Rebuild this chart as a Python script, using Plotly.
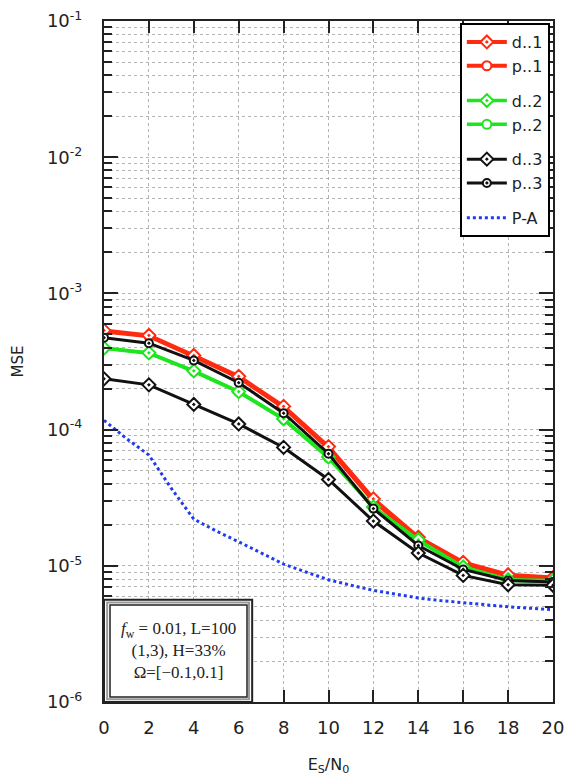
import plotly.graph_objects as go

# ---------------- data ----------------
snr = [0, 2, 4, 6, 8, 10, 12, 14, 16, 18, 20]

d1 = [5.35e-4, 4.92e-4, 3.50e-4, 2.46e-4, 1.48e-4, 7.5e-5, 3.1e-5, 1.62e-5, 1.06e-5, 8.6e-6, 8.2e-6]
p1 = [5.25e-4, 4.85e-4, 3.45e-4, 2.42e-4, 1.45e-4, 7.3e-5, 3.0e-5, 1.58e-5, 1.04e-5, 8.4e-6, 8.0e-6]
d2 = [3.97e-4, 3.66e-4, 2.70e-4, 1.90e-4, 1.20e-4, 6.3e-5, 2.7e-5, 1.55e-5, 9.8e-6, 7.9e-6, 7.8e-6]
p2 = [3.95e-4, 3.64e-4, 2.68e-4, 1.89e-4, 1.19e-4, 6.2e-5, 2.68e-5, 1.53e-5, 9.7e-6, 7.8e-6, 7.7e-6]
d3 = [2.36e-4, 2.13e-4, 1.53e-4, 1.10e-4, 7.4e-5, 4.3e-5, 2.13e-5, 1.24e-5, 8.5e-6, 7.26e-6, 7.2e-6]
p3 = [4.73e-4, 4.31e-4, 3.22e-4, 2.21e-4, 1.32e-4, 6.65e-5, 2.63e-5, 1.41e-5, 9.4e-6, 7.8e-6, 7.6e-6]

pa_x = list(range(0, 21))
pa_y = [1.17e-4, 8.6e-5, 6.5e-5, 3.7e-5, 2.2e-5, 1.8e-5, 1.5e-5, 1.24e-5, 1.03e-5, 9.0e-6,
        7.9e-6, 7.2e-6, 6.6e-6, 6.2e-6, 5.8e-6, 5.55e-6, 5.35e-6, 5.15e-6, 5.0e-6, 4.88e-6, 4.76e-6]

y_tickvals = [1e-6, 1e-5, 1e-4, 1e-3, 1e-2, 1e-1]
y_ticktext = ["10<sup>-6</sup>", "10<sup>-5</sup>", "10<sup>-4</sup>",
              "10<sup>-3</sup>", "10<sup>-2</sup>", "10<sup>-1</sup>"]
x_tickvals = [0, 2, 4, 6, 8, 10, 12, 14, 16, 18, 20]

RED = "#ff2a10"
GREEN = "#1ee61e"
BLACK = "#111111"
BLUE = "#1f3cf0"

fig = go.Figure()

def add(name, y, color, symbol, size, width, group, rank):
    fig.add_trace(go.Scatter(
        x=snr, y=y, name=name, mode="lines+markers",
        line=dict(color=color, width=width),
        marker=dict(symbol=symbol, size=size, color="white",
                    line=dict(color=color, width=2)),
        legendgroup=group, legendrank=rank))

add("p..1", p1, RED, "circle", 9, 4, "g1", 2)
add("d..1", d1, RED, "diamond-dot", 10, 4, "g1", 1)
add("p..2", p2, GREEN, "circle", 9, 3.5, "g2", 4)
add("d..2", d2, GREEN, "diamond-dot", 10, 3.5, "g2", 3)
add("p..3", p3, BLACK, "circle-dot", 8, 3, "g3", 6)
add("d..3", d3, BLACK, "diamond-dot", 10, 3, "g3", 5)

fig.add_trace(go.Scatter(
    x=pa_x, y=pa_y, name="P-A", mode="lines",
    line=dict(color=BLUE, width=3, dash="dot"),
    legendgroup="g4", legendrank=7))

grid = dict(gridcolor="#b4b4b4", griddash="dot", gridwidth=1)

fig.update_layout(
    width=567, height=783,
    margin=dict(l=104, r=14, t=21, b=81, autoexpand=False),
    paper_bgcolor="white", plot_bgcolor="white",
    font=dict(family="DejaVu Sans", size=18, color="#222222"),
    showlegend=True,
    legend=dict(
        x=0.993, y=0.997, xanchor="right", yanchor="top",
        bgcolor="white", bordercolor="black", borderwidth=2,
        font=dict(family="DejaVu Sans", size=16, color="#222222"),
        tracegroupgap=11, traceorder="grouped",
        itemwidth=40,
    ),
    xaxis=dict(
        range=[0, 20], tickvals=x_tickvals, automargin=False,
        ticks="inside", ticklen=12, tickwidth=2, tickcolor="#222222",
        showline=True, linecolor="#222222", linewidth=2, mirror="allticks",
        showgrid=True, zeroline=False, ticklabelstandoff=8,
        tickfont=dict(size=18),
        title=dict(text="E<sub>S</sub>/N<sub>0</sub>", font=dict(size=16), standoff=22),
        **grid,
    ),
    yaxis=dict(
        type="log", range=[-6, -1], automargin=False,
        tickvals=y_tickvals, ticktext=y_ticktext,
        ticks="inside", ticklen=14, tickwidth=2, tickcolor="#222222",
        showline=True, linecolor="#222222", linewidth=2, mirror="allticks",
        showgrid=True, zeroline=False, ticklabelstandoff=16,
        tickfont=dict(size=18),
        minor=dict(ticks="inside", ticklen=8, tickwidth=2, tickcolor="#222222",
                   dtick="D1", showgrid=True, gridcolor="#b4b4b4", griddash="dot", gridwidth=1),
        title=dict(text="MSE", font=dict(size=15), standoff=20),
        **grid,
    ),
)

# text box (double border)
fig.add_shape(type="rect", xref="paper", yref="paper", x0=0.0, x1=0.33, y0=0.0, y1=0.15,
              fillcolor="white", line=dict(color="#222222", width=2), layer="above")
fig.add_shape(type="rect", xref="paper", yref="paper", x0=0.007, x1=0.323, y0=0.004, y1=0.146,
              fillcolor="rgba(0,0,0,0)", line=dict(color="#9a9a9a", width=2), layer="above")
fig.add_shape(type="rect", xref="paper", yref="paper", x0=0.0134, x1=0.3185, y0=0.0073, y1=0.1424,
              fillcolor="rgba(0,0,0,0)", line=dict(color="#222222", width=1.5), layer="above")

fig.add_annotation(
    xref="paper", yref="paper", x=0.165, y=0.075, xanchor="center", yanchor="middle",
    text="<i>f</i><sub>w</sub> = 0.01, L=100<br>(1,3), H=33%<br>Ω=[−0.1,0.1]",
    showarrow=False, align="center",
    font=dict(family="Liberation Serif", size=17, color="#222222"))

fig.write_html("out.html")
